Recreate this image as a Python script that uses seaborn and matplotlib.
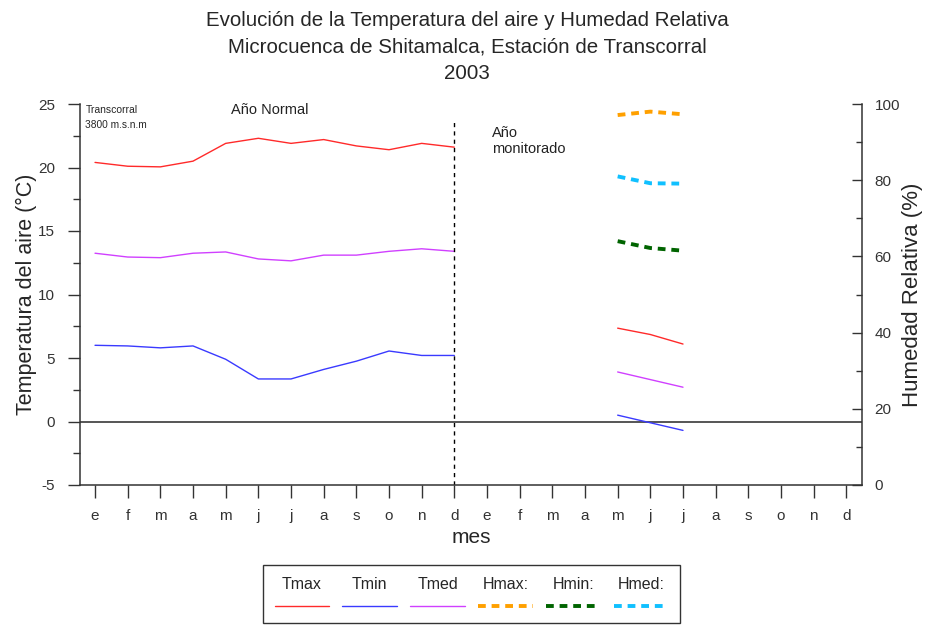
import numpy as np
import pandas as pd
import matplotlib
matplotlib.use("Agg")
import matplotlib.pyplot as plt
import seaborn as sns
from matplotlib.lines import Line2D
from matplotlib.offsetbox import VPacker
from matplotlib.ticker import MultipleLocator

# ---------------- data ----------------
meses = ['e', 'f', 'm', 'a', 'm', 'j', 'j', 'a', 's', 'o', 'n', 'd']
tick_labels = meses * 2

# Año normal (promedio mensual)
tmax_normal = [20.4, 20.1, 20.05, 20.5, 21.9, 22.3, 21.9, 22.2, 21.7, 21.4, 21.9, 21.6]
tmed_normal = [13.25, 12.95, 12.9, 13.25, 13.35, 12.8, 12.65, 13.1, 13.1, 13.4, 13.6, 13.4]
tmin_normal = [6.0, 5.95, 5.8, 5.95, 4.9, 3.35, 3.35, 4.1, 4.75, 5.55, 5.2, 5.2]

# Año monitorado 2003 (mayo, junio, julio)
meses_2003 = [4, 5, 6]
tmax_2003 = [7.35, 6.85, 6.1]
tmed_2003 = [3.9, 3.3, 2.7]
tmin_2003 = [0.5, -0.1, -0.7]
hmax_2003 = [97.1, 98.0, 97.3]
hmin_2003 = [64.0, 62.2, 61.5]
hmed_2003 = [81.0, 79.2, 79.1]

pos_normal = list(range(len(meses)))
pos_2003 = [len(meses) + m for m in meses_2003]
df_n = pd.DataFrame({'pos': pos_normal, 'Tmax': tmax_normal,
                     'Tmin': tmin_normal, 'Tmed': tmed_normal})
df_m = pd.DataFrame({'pos': pos_2003, 'Tmax': tmax_2003, 'Tmin': tmin_2003,
                     'Tmed': tmed_2003, 'Hmax': hmax_2003, 'Hmin': hmin_2003,
                     'Hmed': hmed_2003})

# ---------------- style ----------------
sns.set_theme(style="ticks")
plt.rcParams['font.family'] = ['Liberation Sans', 'DejaVu Sans']
plt.rcParams['axes.unicode_minus'] = False

c_tmax, c_tmin, c_tmed = '#ff2a2a', '#3a3aff', '#d040ff'
c_hmax, c_hmin, c_hmed = '#ffa000', '#006400', '#10c0ff'
tcol = '#333333'
dash = (0, (2.0, 1.5))

fig = plt.figure(figsize=(9.25, 6.25), dpi=100)
ax = fig.add_axes([80 / 925, 1 - 485 / 625, (862 - 80) / 925, (485 - 104) / 625])
ax2 = ax.twinx()

for col, c in [('Tmax', c_tmax), ('Tmin', c_tmin), ('Tmed', c_tmed)]:
    sns.lineplot(data=df_n, x='pos', y=col, ax=ax, color=c, lw=1.0)
    sns.lineplot(data=df_m, x='pos', y=col, ax=ax, color=c, lw=1.0)
for col, c in [('Hmax', c_hmax), ('Hmin', c_hmin), ('Hmed', c_hmed)]:
    sns.lineplot(data=df_m, x='pos', y=col, ax=ax2, color=c, lw=2.8, linestyle=dash)

# reference lines
ax.axhline(0, color='#555555', lw=1.4, zorder=1)
divisor = len(meses) - 1
ax.plot([divisor, divisor], [-5, 23.6], color='black', lw=1.0,
        linestyle=(0, (3, 3)))

# axes
ax.set_xlim(-0.46, 23.48)
ax.set_ylim(-5, 25)
ax2.set_ylim(0, 100)
ax.set_xticks(range(len(tick_labels)))
ax.set_xticklabels(tick_labels)
ax.yaxis.set_major_locator(MultipleLocator(5))
ax.yaxis.set_minor_locator(MultipleLocator(2.5))
ax2.yaxis.set_major_locator(MultipleLocator(20))
ax2.yaxis.set_minor_locator(MultipleLocator(10))

for a in (ax, ax2):
    a.spines['top'].set_visible(False)
ax.spines['right'].set_visible(False)
ax2.spines['left'].set_visible(False)
ax2.spines['bottom'].set_visible(False)
for s in ('left', 'bottom'):
    ax.spines[s].set_color(tcol)
    ax.spines[s].set_linewidth(1.1)
ax2.spines['right'].set_color(tcol)
ax2.spines['right'].set_linewidth(1.1)

ax.tick_params(axis='y', which='major', direction='out', length=9, width=1,
               color=tcol, labelsize=11, labelcolor=tcol, pad=9)
ax.tick_params(axis='y', which='minor', direction='out', length=5, width=1, color=tcol)
ax.tick_params(axis='x', which='major', direction='out', length=9, width=1,
               color=tcol, labelsize=11, labelcolor=tcol, pad=8)
ax2.tick_params(axis='y', which='major', direction='in', length=7, width=1,
                color=tcol, labelsize=11, labelcolor=tcol, pad=9)
ax2.tick_params(axis='y', which='minor', direction='in', length=4, width=1, color=tcol)

ax.set_xlabel('mes', fontsize=15, labelpad=4)
ax.set_ylabel('Temperatura del aire (°C)', fontsize=15.5, labelpad=1)
ax2.set_ylabel('Humedad Relativa (%)', fontsize=16, labelpad=1.5)
ax.grid(False)
ax2.grid(False)

# annotations
ax.text(0.007, 0.985, 'Transcorral', transform=ax.transAxes, fontsize=7.5,
        va='center', ha='left')
ax.text(0.007, 0.944, '3800 m.s.n.m', transform=ax.transAxes, fontsize=7.3,
        va='center', ha='left')
ax.text(0.193, 0.985, 'Año Normal', transform=ax.transAxes, fontsize=10.5,
        va='center', ha='left', color='#222222')
ax.text(0.527, 0.903, 'Año\nmonitorado', transform=ax.transAxes, fontsize=10.5,
        va='center', ha='left', color='#222222', linespacing=1.25)

fig.text(0.505, 0.982,
         'Evolución de la Temperatura del aire y Humedad Relativa\n'
         'Microcuenca de Shitamalca, Estación de Transcorral\n2003',
         ha='center', va='top', fontsize=14.8, linespacing=1.48)

# legend (labels above handles)
handles = [Line2D([], [], color=c_tmax, lw=1.0),
           Line2D([], [], color=c_tmin, lw=1.0),
           Line2D([], [], color=c_tmed, lw=1.0),
           Line2D([], [], color=c_hmax, lw=2.8, linestyle=dash),
           Line2D([], [], color=c_hmin, lw=2.8, linestyle=dash),
           Line2D([], [], color=c_hmed, lw=2.8, linestyle=dash)]
labels = ['Tmax', 'Tmin', 'Tmed', 'Hmax:', 'Hmin:', 'Hmed:']
leg = fig.legend(handles, labels, ncol=6, loc='upper center',
                 bbox_to_anchor=(0.5097, 0.096), frameon=True, fancybox=False,
                 edgecolor='black', fontsize=11.5, handlelength=3.4,
                 columnspacing=0.85, borderpad=0.75, handletextpad=0.5,
                 borderaxespad=0)
leg.get_frame().set_linewidth(1.0)
try:
    for col in leg._legend_handle_box.get_children():
        new_items = []
        for item in col.get_children():
            h, t = item.get_children()
            new_items.append(VPacker(pad=0, sep=6, children=[t, h], align='center'))
        col._children = new_items
except Exception:
    pass

fig.savefig('out.png', dpi=100)
